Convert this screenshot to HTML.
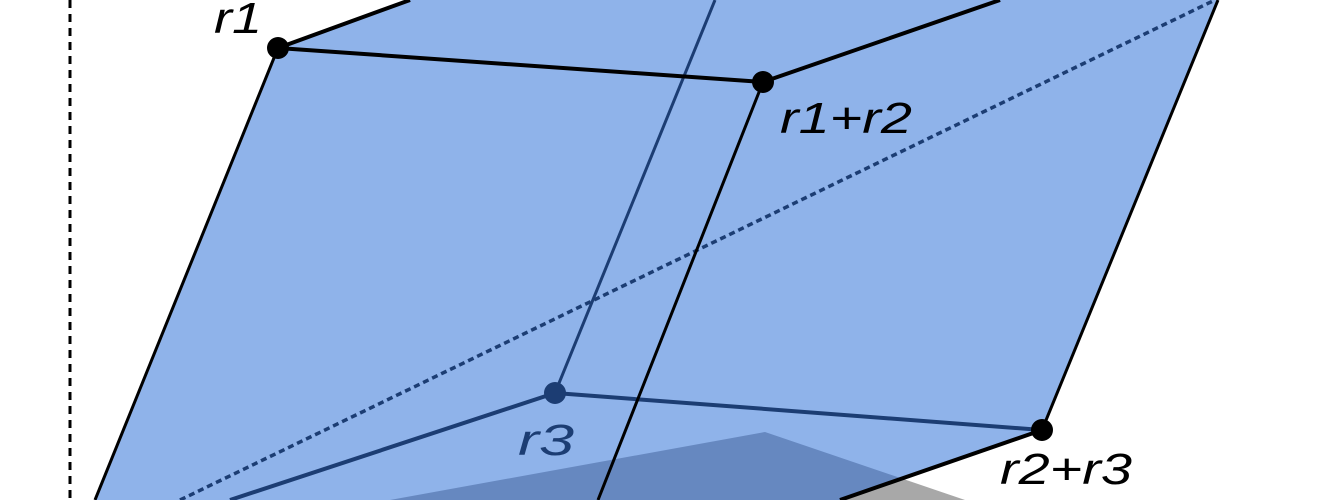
<!DOCTYPE html>
<html><head><meta charset="utf-8"><style>
html,body{margin:0;padding:0;background:#fff;}
svg{display:block;}
text{font-family:"Liberation Sans",sans-serif;font-style:italic;font-size:44px;}
</style></head><body>
<svg width="1320" height="500" viewBox="0 0 1320 500">
  <line x1="70" y1="0" x2="70" y2="500" stroke="#000" stroke-width="3" stroke-dasharray="8,6"/>
  <polygon points="390,500 765,432 965,500" fill="#a8a8a8"/>
  <polygon points="95,500 278,48 410,0 1218,0 1042,430 840,500" fill="#8fb3ea"/>
  <clipPath id="cp"><polygon points="95,500 278,48 410,0 1218,0 1042,430 840,500"/></clipPath>
  <polygon clip-path="url(#cp)" points="390,500 765,432 965,500" fill="#6688c0"/>
  <line x1="180" y1="500" x2="1215" y2="0" stroke="#1c3d73" stroke-width="3.5" stroke-dasharray="6,4"/>
  <g stroke="#1c3d73" stroke-width="3">
    <line x1="555" y1="393" x2="715" y2="0"/>
    <line x1="555" y1="393" x2="230" y2="500" stroke-width="4"/>
    <line x1="555" y1="393" x2="1042" y2="430" stroke-width="4"/>
  </g>
  <g stroke="#000">
    <line x1="278" y1="48" x2="95" y2="500" stroke-width="3"/>
    <line x1="278" y1="48" x2="410" y2="0" stroke-width="4"/>
    <line x1="278" y1="48" x2="763" y2="82" stroke-width="4"/>
    <line x1="763" y1="82" x2="1000" y2="0" stroke-width="4"/>
    <line x1="763" y1="82" x2="598" y2="500" stroke-width="3"/>
    <line x1="1218" y1="0" x2="1042" y2="430" stroke-width="3"/>
    <line x1="1042" y1="430" x2="840" y2="500" stroke-width="4"/>
  </g>
  <circle cx="278" cy="48" r="11" fill="#000"/>
  <circle cx="763" cy="82" r="11" fill="#000"/>
  <circle cx="555" cy="393" r="11" fill="#1c3d73"/>
  <circle cx="1042" cy="430" r="11" fill="#000"/>
  <text x="214" y="33" textLength="48" lengthAdjust="spacingAndGlyphs">r1</text>
  <text x="780" y="133" textLength="132" lengthAdjust="spacingAndGlyphs">r1+r2</text>
  <text x="518" y="455" fill="#1c3d73" textLength="56" lengthAdjust="spacingAndGlyphs">r3</text>
  <text x="1000" y="484" textLength="132" lengthAdjust="spacingAndGlyphs">r2+r3</text>
</svg>
</body></html>
